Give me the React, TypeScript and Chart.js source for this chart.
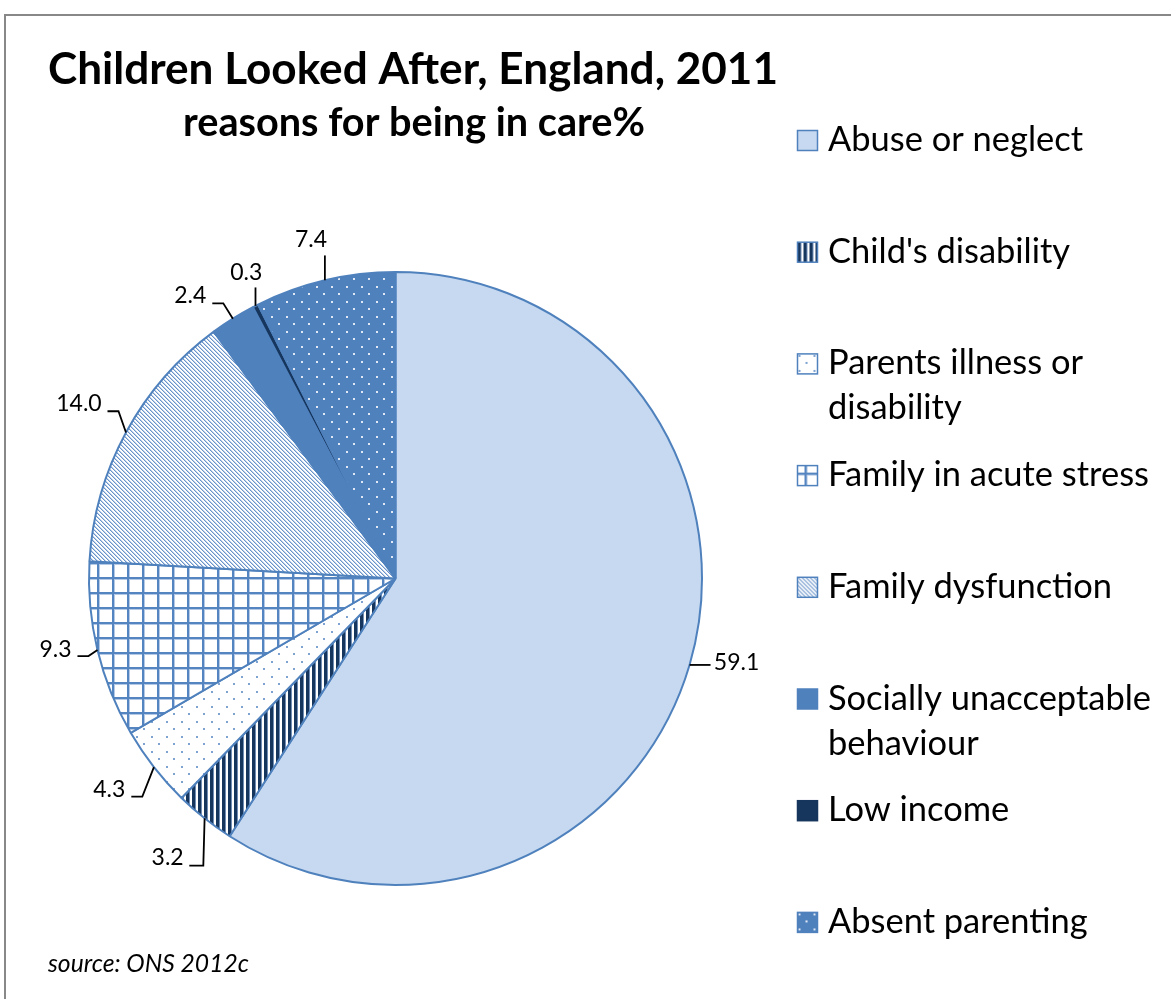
import React, { useEffect, useRef } from 'react';
import { Chart, registerables } from 'chart.js';

Chart.register(...registerables);

// ---- data ----
const categories = [
  'Abuse or neglect',
  "Child's disability",
  'Parents illness or disability',
  'Family in acute stress',
  'Family dysfunction',
  'Socially unacceptable behaviour',
  'Low income',
  'Absent parenting',
];
const values = [59.1, 3.2, 4.3, 9.3, 14.0, 2.4, 0.3, 7.4];
const valueLabels = ['59.1', '3.2', '4.3', '9.3', '14.0', '2.4', '0.3', '7.4'];
const titleText = 'Children Looked After, England, 2011';
const subtitleText = 'reasons for being in care%';
const sourceText = 'source: ONS 2012c';

// ---- layout / style (not data) ----
// label text offset (centre x, baseline y) and leader-line points, relative to the arc's outer mid point
const labelLayout: { t: [number, number]; leader: [number, number][] }[] = [
  { t: [47, 5], leader: [[21, 0]] },
  { t: [-37, 47], leader: [[-1.3, 47.3], [-15.3, 47.3]] },
  { t: [-44.6, 29.5], leader: [[-11.6, 29.5], [-22.6, 29.5]] },
  { t: [-42, 6.8], leader: [[-9, 6], [-20, 6]] },
  { t: [-47, -21.3], leader: [[-7.5, -21.3], [-18.5, -21.3]] },
  { t: [-42.6, -15.3], leader: [[-9.6, -15.3], [-20.6, -15.3]] },
  { t: [-9.3, -25.4], leader: [[0, -18.4]] },
  { t: [-13.8, -32.8], leader: [[0, -24.8]] },
];

const BLUE = '#4f81bd';
const NAVY = '#17365d';

function tile(w: number, h: number, draw: (c: CanvasRenderingContext2D) => void) {
  const cv = document.createElement('canvas');
  cv.width = w;
  cv.height = h;
  const c = cv.getContext('2d')!;
  draw(c);
  return cv;
}

function makeFills(ctx: CanvasRenderingContext2D): (string | CanvasPattern)[] {
  const stripes = tile(6, 6, (c) => {
    c.fillStyle = '#ffffff';
    c.fillRect(0, 0, 6, 6);
    c.fillStyle = NAVY;
    c.fillRect(0, 0, 3, 6);
    c.fillStyle = '#6f8db5';
    c.fillRect(3, 0, 1, 6);
  });
  const dotsLight = tile(15, 15, (c) => {
    c.fillStyle = '#ffffff';
    c.fillRect(0, 0, 15, 15);
    c.fillStyle = '#7ea3d1';
    c.fillRect(1, 1, 2, 2);
    c.fillRect(8, 8, 2, 2);
  });
  const grid = tile(15, 15, (c) => {
    c.fillStyle = '#ffffff';
    c.fillRect(0, 0, 15, 15);
    c.fillStyle = '#b3c9e5';
    c.fillRect(9, 0, 1, 15);
    c.fillRect(0, 9, 15, 1);
    c.fillStyle = '#5585c0';
    c.fillRect(7, 0, 2, 15);
    c.fillRect(0, 7, 15, 2);
  });
  const diag = tile(4, 4, (c) => {
    c.fillStyle = '#ffffff';
    c.fillRect(0, 0, 4, 4);
    for (let x = 0; x < 4; x++) {
      for (let y = 0; y < 4; y++) {
        const d = (((x - y) % 4) + 4) % 4;
        if (d === 0) {
          c.fillStyle = '#6a94c9';
          c.fillRect(x, y, 1, 1);
        } else if (d === 1) {
          c.fillStyle = '#bcd0e9';
          c.fillRect(x, y, 1, 1);
        }
      }
    }
  });
  const dotsDark = tile(15, 15, (c) => {
    c.fillStyle = BLUE;
    c.fillRect(0, 0, 15, 15);
    c.fillStyle = '#dfe8f4';
    c.fillRect(1, 1, 2, 2);
    c.fillRect(8, 8, 2, 2);
  });
  const p = (cv: HTMLCanvasElement) => ctx.createPattern(cv, 'repeat')!;
  return ['#c6d9f0', p(stripes), p(dotsLight), p(grid), p(diag), BLUE, NAVY, p(dotsDark)];
}

function fitFont(ctx: CanvasRenderingContext2D, text: string, style: string, target: number) {
  ctx.font = `${style} 100px Lato`;
  const w = ctx.measureText(text).width;
  const size = (100 * target) / w;
  return `${style} ${size.toFixed(2)}px Lato`;
}

function wrap(ctx: CanvasRenderingContext2D, text: string, maxW: number) {
  const words = text.split(' ');
  const lines: string[] = [];
  let cur = '';
  for (const w of words) {
    const t = cur ? cur + ' ' + w : w;
    if (ctx.measureText(t).width > maxW && cur) {
      lines.push(cur);
      cur = w;
    } else cur = t;
  }
  if (cur) lines.push(cur);
  return lines;
}

const overlayPlugin = {
  id: 'overlay',
  beforeDraw(chart: any) {
    const ctx: CanvasRenderingContext2D = chart.ctx;
    ctx.save();
    ctx.fillStyle = '#ffffff';
    ctx.fillRect(0, 0, chart.width, chart.height);
    ctx.strokeStyle = '#888888';
    ctx.lineWidth = 2;
    ctx.strokeRect(5, 15, 1300, 1200);
    ctx.restore();
  },
  afterDraw(chart: any) {
    const ctx: CanvasRenderingContext2D = chart.ctx;
    const fills = chart.data.datasets[0].backgroundColor as (string | CanvasPattern)[];
    ctx.save();
    ctx.fillStyle = '#000000';

    // title + subtitle
    ctx.textAlign = 'center';
    ctx.textBaseline = 'alphabetic';
    ctx.font = fitFont(ctx, titleText, 'bold', 730);
    ctx.fillText(titleText, 413, 84);
    ctx.font = fitFont(ctx, subtitleText, 'bold', 462);
    ctx.fillText(subtitleText, 414, 136);

    // data labels with leader lines
    const meta = chart.getDatasetMeta(0);
    ctx.font = '23px Lato';
    meta.data.forEach((arc: any, i: number) => {
      const { x, y, startAngle, endAngle, outerRadius } = arc.getProps(
        ['x', 'y', 'startAngle', 'endAngle', 'outerRadius'],
        true
      );
      const mid = (startAngle + endAngle) / 2;
      const px = x + Math.cos(mid) * outerRadius;
      const py = y + Math.sin(mid) * outerRadius;
      const lay = labelLayout[i];
      ctx.beginPath();
      ctx.moveTo(px, py);
      lay.leader.forEach(([dx, dy]) => ctx.lineTo(px + dx, py + dy));
      ctx.strokeStyle = '#000000';
      ctx.lineWidth = 1.8;
      ctx.stroke();
      ctx.textAlign = 'center';
      ctx.fillText(valueLabels[i], px + lay.t[0], py + lay.t[1]);
    });

    // legend
    const legendFont = fitFont(ctx, 'Family in acute stress', 'normal', 321);
    ctx.font = legendFont;
    ctx.textAlign = 'left';
    categories.forEach((cat, i) => {
      const base = 151 + i * 111.7;
      const lines = wrap(ctx, cat, 338);
      lines.forEach((ln, k) => ctx.fillText(ln, 828, base + k * 45));
      const bx = 797.5;
      const by = base - 20.5;
      ctx.save();
      ctx.translate(bx, by);
      ctx.fillStyle = fills[i] as any;
      ctx.fillRect(0, 0, 20, 20);
      ctx.restore();
      ctx.strokeStyle = i === 6 ? NAVY : BLUE;
      ctx.lineWidth = 1.5;
      ctx.strokeRect(bx, by, 20, 20);
      ctx.fillStyle = '#000000';
    });

    // source
    ctx.font = fitFont(ctx, sourceText, 'italic', 201);
    ctx.fillText(sourceText, 48, 972);
    ctx.restore();
  },
};

export default function App() {
  const ref = useRef<HTMLCanvasElement | null>(null);
  useEffect(() => {
    document.body.style.margin = '0';
    const canvas = ref.current!;
    const ctx = canvas.getContext('2d')!;
    const fills = makeFills(ctx);
    const chart = new Chart(canvas, {
      type: 'pie',
      data: {
        labels: categories,
        datasets: [
          {
            data: values,
            backgroundColor: fills as any,
            borderColor: BLUE,
            borderWidth: 2,
            hoverOffset: 0,
            offset: 0,
          } as any,
        ],
      },
      options: {
        responsive: false,
        animation: false,
        devicePixelRatio: 1,
        events: [],
        layout: { padding: { left: 88, top: 271, right: 468, bottom: 113 } },
        plugins: {
          legend: { display: false },
          tooltip: { enabled: false },
          title: { display: false },
        },
      } as any,
      plugins: [overlayPlugin],
    });
    return () => chart.destroy();
  }, []);
  return <canvas ref={ref} width={1171} height={999} style={{ display: 'block' }} />;
}
